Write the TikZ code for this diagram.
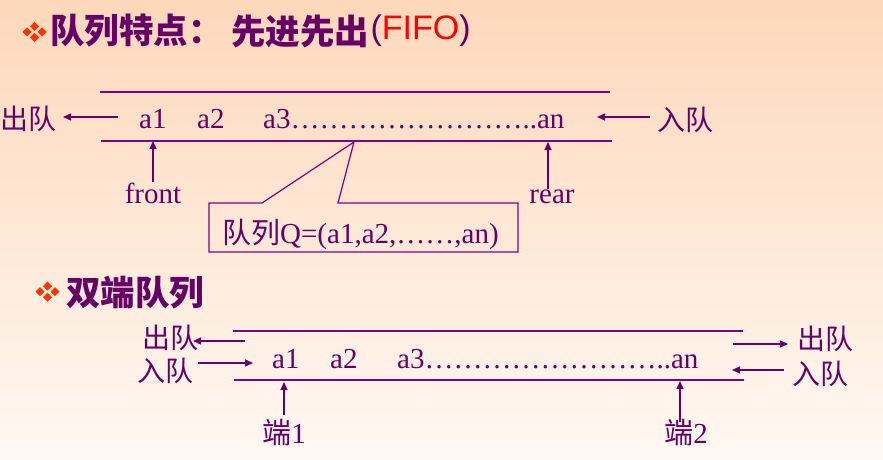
\documentclass[tikz,border=0pt]{standalone}
\usepackage{fontspec}
\setmainfont{Liberation Serif}
\newfontfamily\cjk{Noto Sans CJK SC}
\newfontfamily\arial{Liberation Sans}
\usetikzlibrary{arrows.meta}
\definecolor{txtpurple}{HTML}{660066}
\definecolor{linepurple}{HTML}{800080}
\definecolor{fifored}{HTML}{FF0000}
\definecolor{bulletred}{HTML}{FF3300}
\definecolor{bgtop}{HTML}{FDD8BA}
\definecolor{bgbot}{HTML}{FFF8F3}
\tikzset{
  lbl/.style={inner sep=0pt, text=txtpurple, font=\fontsize{29}{34}\selectfont},
  cjklbl/.style={inner sep=0pt, text=txtpurple, font=\cjk\fontsize{28}{34}\selectfont},
  head/.style={inner sep=0pt, text=txtpurple, font=\cjk\bfseries\fontsize{34.5}{40}\selectfont},
  qline/.style={draw=linepurple, line width=1.3pt},
  arr/.style={draw=txtpurple, line width=1.3pt, -{Triangle[length=8pt,width=7pt]}},
}
\begin{document}
\begin{tikzpicture}[x=1pt,y=-1pt]

  \shade[top color=bgtop, bottom color=bgbot] (0,0) rectangle (883,460);

  % bullets
  \foreach \dx/\dy in {-7.5/0, 7.5/0, 0/-5.5, 0/5.5}{
    \fill[bulletred] (34.5+\dx,32+\dy) +(-4.5,0) -- +(0,-4.5) -- +(4.5,0) -- +(0,4.5) -- cycle;
    \fill[bulletred] (47.5+\dx,291.5+\dy) +(-4.5,0) -- +(0,-4.5) -- +(4.5,0) -- +(0,4.5) -- cycle;
  }

  % headings
  \node[head, anchor=west] (title) at (50,31) {队列特点：};
  \node[head, anchor=west] (fifo) at (231,31) {先进先出};
  \node[inner sep=0pt, anchor=west, text=txtpurple, font=\arial\fontsize{34}{40}\selectfont]
    (fifoabbr) at ([xshift=1pt]fifo.east) {(\textcolor{fifored}{FIFO})};
  \node[head, anchor=west] (deque) at (66,293) {双端队列};

  % queue
  \coordinate (q1tl) at (100,92);  \coordinate (q1tr) at (610,92);
  \coordinate (q1bl) at (101,141); \coordinate (q1br) at (612,141);
  \draw[qline] (q1tl) -- (q1tr);
  \draw[qline] (q1bl) -- (q1br);

  \node[lbl, anchor=base west] (q1a1) at (139,128) {a1};
  \node[lbl, anchor=base west] (q1a2) at (197,128) {a2};
  \node[lbl, anchor=base west] (q1an) at (263,128) {a3……………………..an};

  \node[cjklbl] (q1out) at (28,119) {出队};
  \node[cjklbl] (q1in) at (685,120) {入队};
  \node[lbl, anchor=base] (front) at (153,203) {front};
  \node[lbl, anchor=base] (rear) at (552,203) {rear};

  \coordinate (q1outtail) at (118,117); \coordinate (q1outtip) at (63,117);
  \coordinate (q1intail) at (650,117);  \coordinate (q1intip) at (597,117);
  \draw[arr] (q1outtail) -- (q1outtip);
  \draw[arr] (q1intail) -- (q1intip);
  \draw[arr] (front.north) -- (front.north |- q1bl);
  \draw[arr] (rear.north -| 548,0) -- (548,142);

  % callout
  \coordinate (qtip) at (354,142);
  \node[lbl, anchor=base west] (qdef) at (222,243) {{\cjk 队列}Q=(a1,a2,……,an)};
  \draw[draw=linepurple, line width=1.2pt] (209,203) -- (262,203) -- (qtip) -- (338,203)
    -- (518,203) -- (518,252) -- (209,252) -- cycle;

  % deque
  \coordinate (q2tl) at (233,331); \coordinate (q2tr) at (743,331);
  \coordinate (q2bl) at (234,380); \coordinate (q2br) at (744,380);
  \draw[qline] (q2tl) -- (q2tr);
  \draw[qline] (q2bl) -- (q2br);

  \node[lbl, anchor=base west] (q2a1) at (272,368) {a1};
  \node[lbl, anchor=base west] (q2a2) at (330,368) {a2};
  \node[lbl, anchor=base west] (q2an) at (397,368) {a3……………………..an};

  \node[cjklbl] (q2lout) at (170,338) {出队};
  \node[cjklbl] (q2lin) at (165,371) {入队};
  \node[cjklbl] (q2rout) at (825,339) {出队};
  \node[cjklbl] (q2rin) at (820,374) {入队};
  \node[lbl, anchor=base] (end1) at (284,443) {{\cjk 端}1};
  \node[lbl, anchor=base] (end2) at (686,443) {{\cjk 端}2};

  \draw[arr] (245,341) -- (193,341);
  \draw[arr] (198,363) -- (253,363);
  \draw[arr] (733,344) -- (788,344);
  \draw[arr] (784,370) -- (732,370);
  \draw[arr] (284,415) -- (284,382);
  \draw[arr] (680,422) -- (680,381);

\end{tikzpicture}
\end{document}
